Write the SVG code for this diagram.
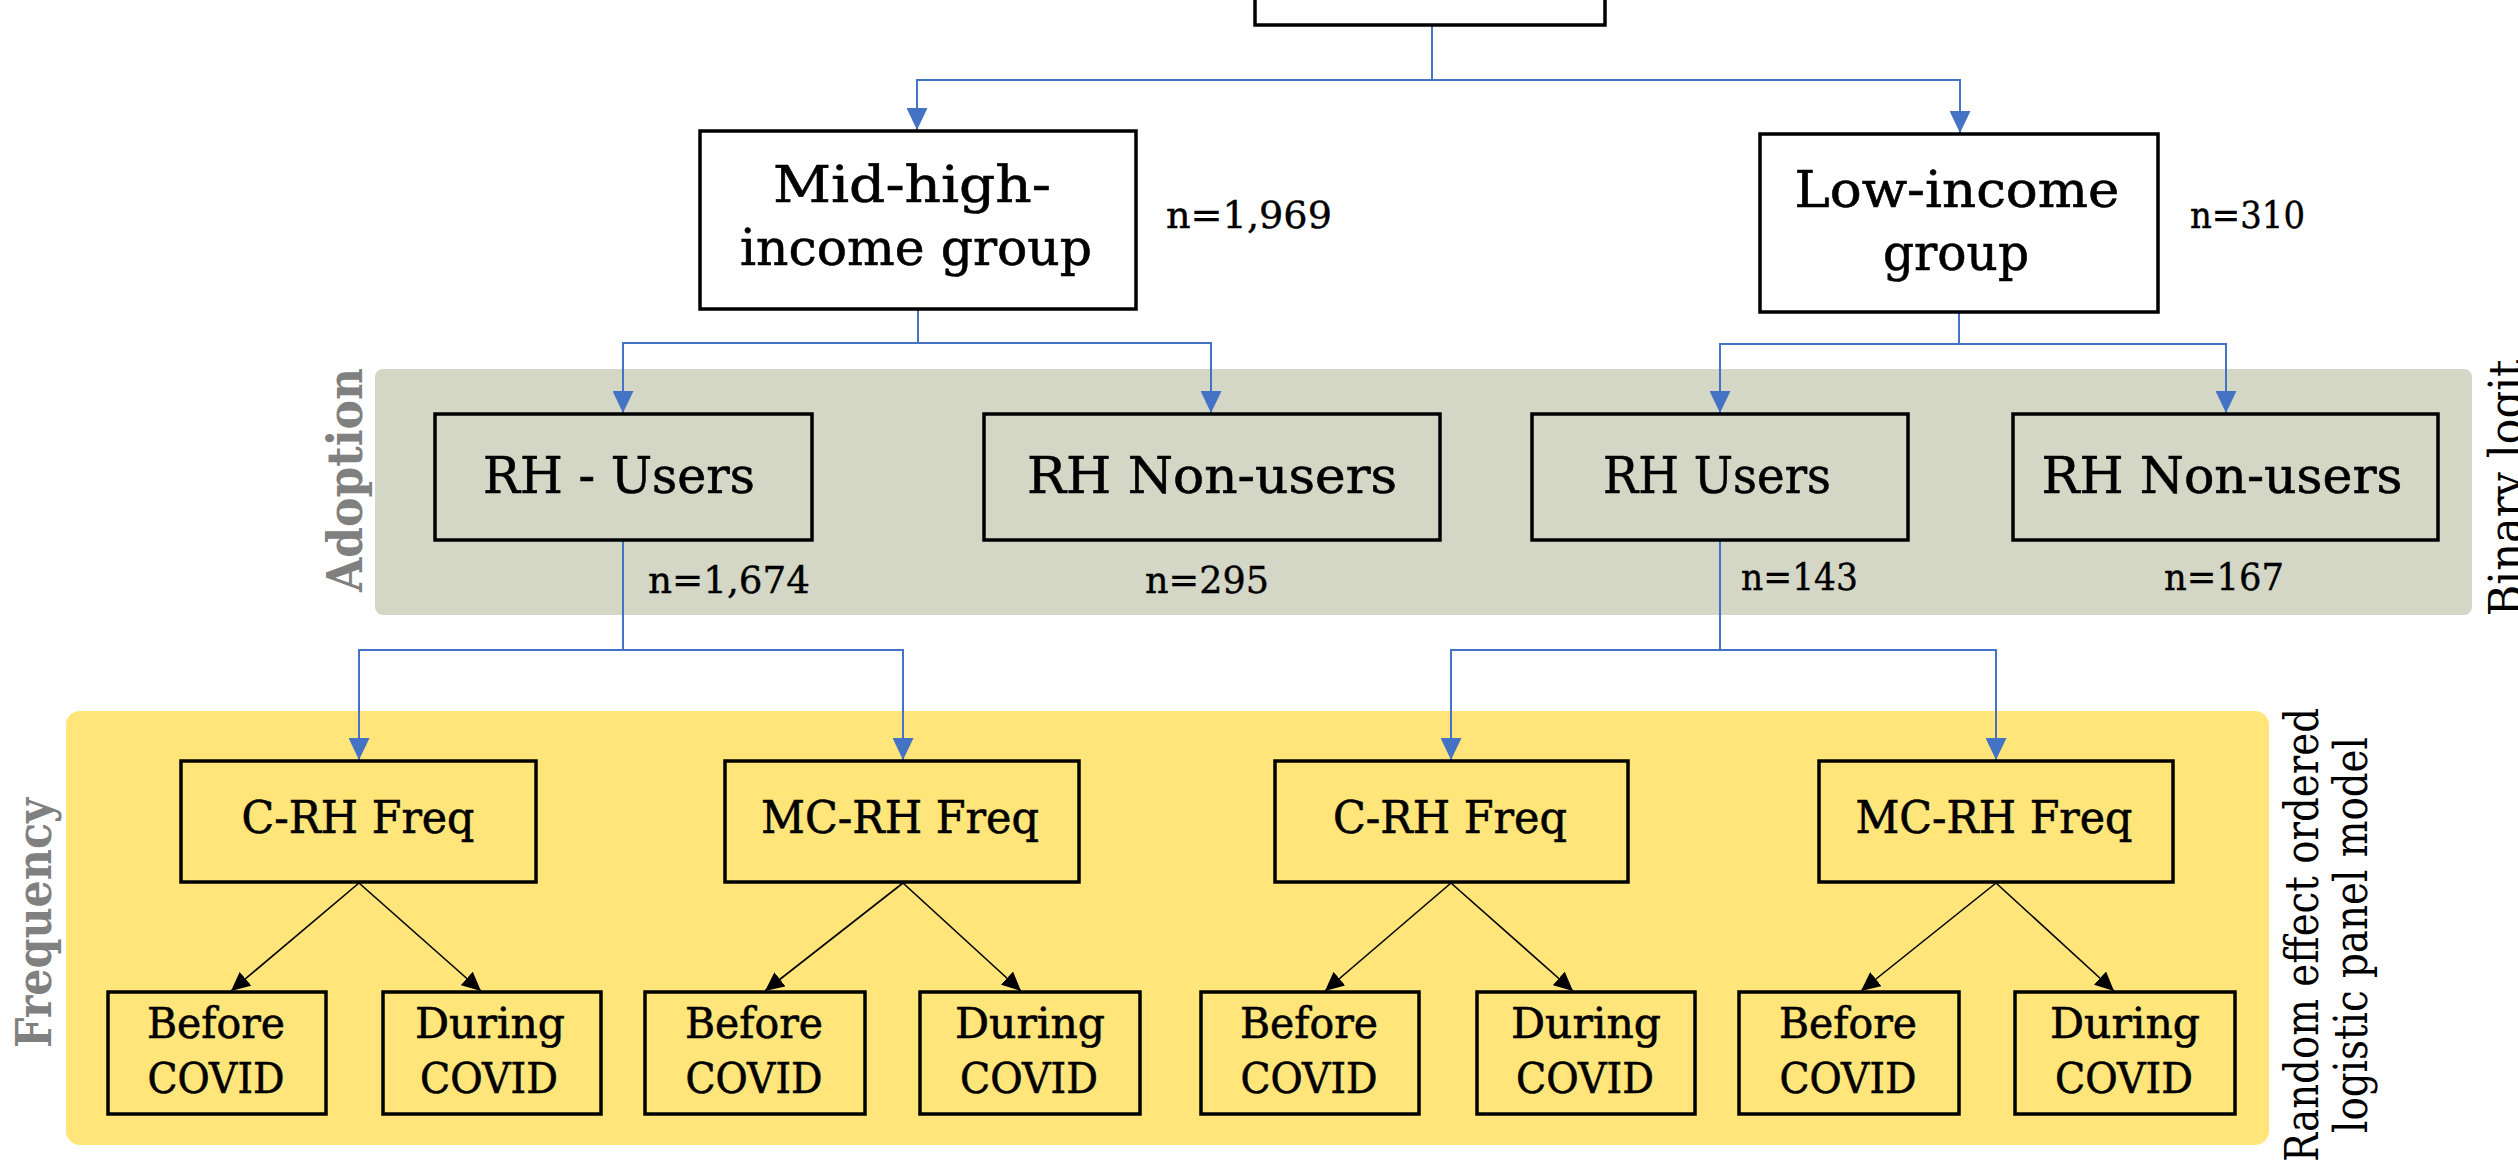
<svg xmlns="http://www.w3.org/2000/svg" width="2518" height="1161" viewBox="0 0 2518 1161">
<style>
.box{stroke:#000;stroke-width:3.5}
.w{fill:#fff}
.g{fill:#D5D7C6}
.y{fill:#FFE57A}
.lbl{font-family:"DejaVu Serif",serif;fill:#000;stroke:#000;stroke-width:0.6;text-anchor:middle}
.big{font-size:50px}
.mid{font-size:44px}
.sm{font-size:42px}
.n{font-family:"DejaVu Serif",serif;font-size:37px;fill:#000;stroke:#000;stroke-width:0.4}
.side{font-family:"DejaVu Serif",serif;font-weight:bold;font-size:48px;fill:#808080;text-anchor:middle}
.model{font-family:"DejaVu Serif",serif;font-size:46px;fill:#000;text-anchor:middle}
.conn{fill:none;stroke:#4472C4;stroke-width:2}
.blk{fill:none;stroke:#000;stroke-width:1.6}
</style>
<defs>
<marker id="ab" markerUnits="userSpaceOnUse" markerWidth="22" markerHeight="21" refX="22" refY="10.5" orient="auto"><path d="M0,0 L22,10.5 L0,21 z" fill="#4472C4"/></marker>
<marker id="ak" markerUnits="userSpaceOnUse" markerWidth="19" markerHeight="18" refX="19" refY="9" orient="auto"><path d="M0,0 L19,9 L0,18 z" fill="#000"/></marker>
</defs>
<rect x="375" y="369" width="2097" height="246" rx="8" fill="#D5D7C6"/>
<rect x="66" y="711" width="2203" height="434" rx="14" fill="#FFE57A"/>
<text class="side" transform="translate(362,480) rotate(-90)" textLength="224" lengthAdjust="spacingAndGlyphs">Adoption</text>
<text class="side" transform="translate(51,923) rotate(-90)" textLength="250" lengthAdjust="spacingAndGlyphs">Frequency</text>
<text class="model" transform="translate(2522,488) rotate(-90)" textLength="257" lengthAdjust="spacingAndGlyphs">Binary logit</text>
<text class="model" transform="translate(2318,935) rotate(-90)" textLength="454" lengthAdjust="spacingAndGlyphs">Random effect ordered</text>
<text class="model" transform="translate(2367,935) rotate(-90)" textLength="396" lengthAdjust="spacingAndGlyphs">logistic panel model</text>
<g id="connectors">
<path class="conn" d="M1432,25 V80 H917 V130" marker-end="url(#ab)"/>
<path class="conn" d="M1432,80 H1960 V133" marker-end="url(#ab)"/>
<path class="conn" d="M918,309 V343 H623 V413" marker-end="url(#ab)"/>
<path class="conn" d="M918,343 H1211 V413" marker-end="url(#ab)"/>
<path class="conn" d="M1959,312 V344 H1720 V413" marker-end="url(#ab)"/>
<path class="conn" d="M1959,344 H2226 V413" marker-end="url(#ab)"/>
<path class="conn" d="M623,540 V650 H359 V760" marker-end="url(#ab)"/>
<path class="conn" d="M623,650 H903 V760" marker-end="url(#ab)"/>
<path class="conn" d="M1720,540 V650 H1451 V760" marker-end="url(#ab)"/>
<path class="conn" d="M1720,650 H1996 V760" marker-end="url(#ab)"/>
<path class="blk" d="M359,883 L231,991" marker-end="url(#ak)"/>
<path class="blk" d="M359,883 L481,991" marker-end="url(#ak)"/>
<path class="blk" d="M903,883 L765,991" marker-end="url(#ak)"/>
<path class="blk" d="M903,883 L1021,991" marker-end="url(#ak)"/>
<path class="blk" d="M1451,883 L1325,991" marker-end="url(#ak)"/>
<path class="blk" d="M1451,883 L1573,991" marker-end="url(#ak)"/>
<path class="blk" d="M1996,883 L1861,991" marker-end="url(#ak)"/>
<path class="blk" d="M1996,883 L2114,991" marker-end="url(#ak)"/>
</g>
<g id="top"><rect class="box w" x="1255" y="-20" width="350" height="45"/></g>
<g id="midhigh"><rect class="box w" x="700" y="131" width="436" height="178"/>
<text class="lbl big" x="912" y="202" textLength="278" lengthAdjust="spacingAndGlyphs">Mid-high-</text>
<text class="lbl big" x="916" y="265" textLength="352" lengthAdjust="spacingAndGlyphs">income group</text></g>
<g id="n1969"><text class="n" x="1166" y="228" textLength="166" lengthAdjust="spacingAndGlyphs">n=1,969</text></g>
<g id="lowincome"><rect class="box w" x="1760" y="134" width="398" height="178"/>
<text class="lbl big" x="1957" y="207" textLength="325" lengthAdjust="spacingAndGlyphs">Low-income</text>
<text class="lbl big" x="1956" y="270" textLength="146" lengthAdjust="spacingAndGlyphs">group</text></g>
<g id="n310"><text class="n" x="2190" y="228" textLength="115" lengthAdjust="spacingAndGlyphs">n=310</text></g>
<g id="rhusers1"><rect class="box g" x="435" y="414" width="377" height="126"/>
<text class="lbl big" x="619" y="493" textLength="272" lengthAdjust="spacingAndGlyphs">RH - Users</text></g>
<g id="rhnon1"><rect class="box g" x="984" y="414" width="456" height="126"/>
<text class="lbl big" x="1212" y="493" textLength="370" lengthAdjust="spacingAndGlyphs">RH Non-users</text></g>
<g id="rhusers2"><rect class="box g" x="1532" y="414" width="376" height="126"/>
<text class="lbl big" x="1717" y="493" textLength="228" lengthAdjust="spacingAndGlyphs">RH Users</text></g>
<g id="rhnon2"><rect class="box g" x="2013" y="414" width="425" height="126"/>
<text class="lbl big" x="2222" y="493" textLength="361" lengthAdjust="spacingAndGlyphs">RH Non-users</text></g>
<g id="n1674"><text class="n" x="648" y="593" textLength="162" lengthAdjust="spacingAndGlyphs">n=1,674</text></g>
<g id="n295"><text class="n" x="1145" y="593" textLength="124" lengthAdjust="spacingAndGlyphs">n=295</text></g>
<g id="n143"><text class="n" x="1741" y="590" textLength="117" lengthAdjust="spacingAndGlyphs">n=143</text></g>
<g id="n167"><text class="n" x="2164" y="590" textLength="120" lengthAdjust="spacingAndGlyphs">n=167</text></g>
<g id="crh1"><rect class="box y" x="181" y="761" width="355" height="121"/>
<text class="lbl mid" x="358" y="833" textLength="233" lengthAdjust="spacingAndGlyphs">C-RH Freq</text></g>
<g id="mcrh1"><rect class="box y" x="725" y="761" width="354" height="121"/>
<text class="lbl mid" x="900" y="833" textLength="278" lengthAdjust="spacingAndGlyphs">MC-RH Freq</text></g>
<g id="crh2"><rect class="box y" x="1275" y="761" width="353" height="121"/>
<text class="lbl mid" x="1450" y="833" textLength="234" lengthAdjust="spacingAndGlyphs">C-RH Freq</text></g>
<g id="mcrh2"><rect class="box y" x="1819" y="761" width="354" height="121"/>
<text class="lbl mid" x="1994" y="833" textLength="277" lengthAdjust="spacingAndGlyphs">MC-RH Freq</text></g>
<g id="before1"><rect class="box y" x="108" y="992" width="218" height="122"/>
<text class="lbl sm" x="216" y="1038" textLength="138" lengthAdjust="spacingAndGlyphs">Before</text>
<text class="lbl sm" x="216" y="1093" textLength="137" lengthAdjust="spacingAndGlyphs">COVID</text></g>
<g id="during1"><rect class="box y" x="383" y="992" width="218" height="122"/>
<text class="lbl sm" x="490" y="1038" textLength="150" lengthAdjust="spacingAndGlyphs">During</text>
<text class="lbl sm" x="489" y="1093" textLength="138" lengthAdjust="spacingAndGlyphs">COVID</text></g>
<g id="before2"><rect class="box y" x="645" y="992" width="220" height="122"/>
<text class="lbl sm" x="754" y="1038" textLength="138" lengthAdjust="spacingAndGlyphs">Before</text>
<text class="lbl sm" x="754" y="1093" textLength="137" lengthAdjust="spacingAndGlyphs">COVID</text></g>
<g id="during2"><rect class="box y" x="920" y="992" width="220" height="122"/>
<text class="lbl sm" x="1030" y="1038" textLength="150" lengthAdjust="spacingAndGlyphs">During</text>
<text class="lbl sm" x="1029" y="1093" textLength="138" lengthAdjust="spacingAndGlyphs">COVID</text></g>
<g id="before3"><rect class="box y" x="1201" y="992" width="218" height="122"/>
<text class="lbl sm" x="1309" y="1038" textLength="138" lengthAdjust="spacingAndGlyphs">Before</text>
<text class="lbl sm" x="1309" y="1093" textLength="137" lengthAdjust="spacingAndGlyphs">COVID</text></g>
<g id="during3"><rect class="box y" x="1477" y="992" width="218" height="122"/>
<text class="lbl sm" x="1586" y="1038" textLength="150" lengthAdjust="spacingAndGlyphs">During</text>
<text class="lbl sm" x="1585" y="1093" textLength="138" lengthAdjust="spacingAndGlyphs">COVID</text></g>
<g id="before4"><rect class="box y" x="1739" y="992" width="220" height="122"/>
<text class="lbl sm" x="1848" y="1038" textLength="138" lengthAdjust="spacingAndGlyphs">Before</text>
<text class="lbl sm" x="1848" y="1093" textLength="137" lengthAdjust="spacingAndGlyphs">COVID</text></g>
<g id="during4"><rect class="box y" x="2015" y="992" width="220" height="122"/>
<text class="lbl sm" x="2125" y="1038" textLength="150" lengthAdjust="spacingAndGlyphs">During</text>
<text class="lbl sm" x="2124" y="1093" textLength="138" lengthAdjust="spacingAndGlyphs">COVID</text></g>
</svg>
